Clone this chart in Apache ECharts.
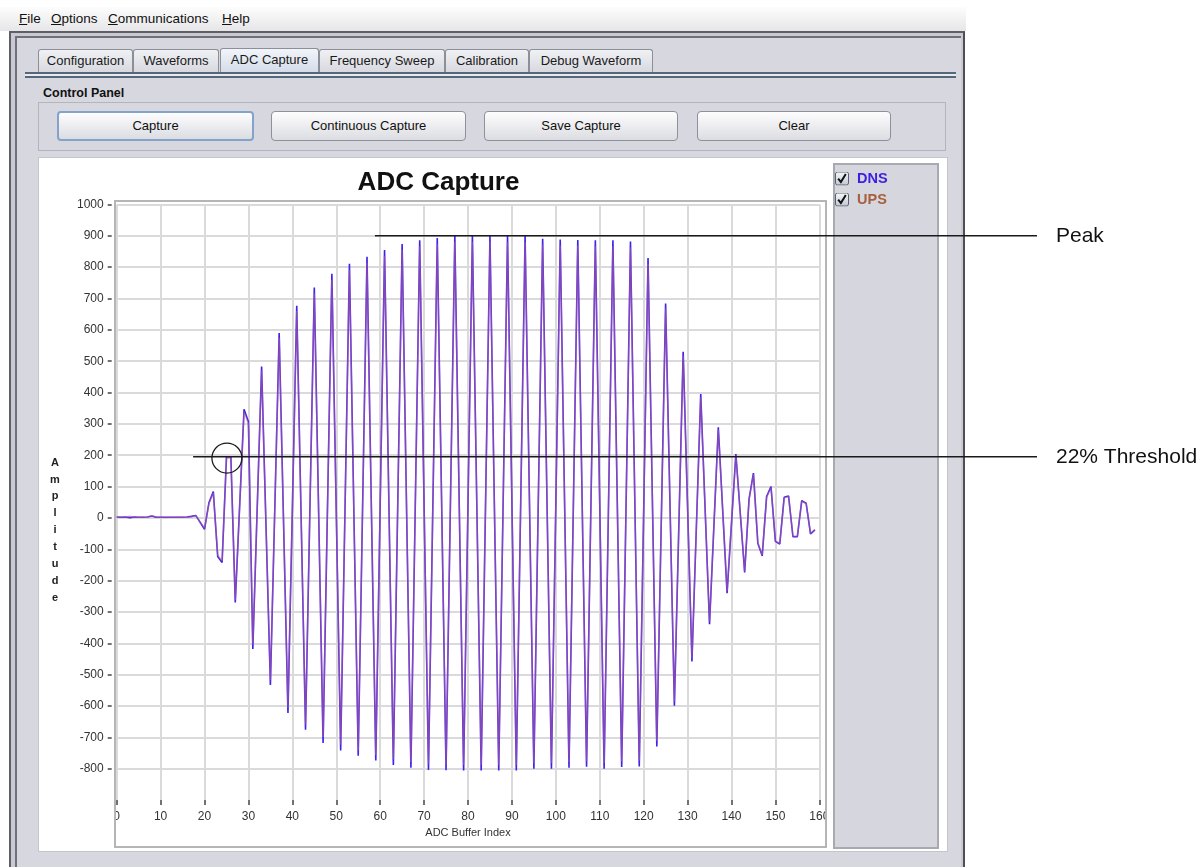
<!DOCTYPE html>
<html>
<head>
<meta charset="utf-8">
<script src="https://cdn.jsdelivr.net/npm/echarts@6/dist/echarts.min.js"></script>
<style>
html,body{margin:0;padding:0;width:1202px;height:867px;overflow:hidden;background:#fff;font-family:"Liberation Sans",Arial,sans-serif;color:#111;}
.abs{position:absolute;box-sizing:border-box;}
#menubar{left:0;top:7px;width:966px;height:24px;background:linear-gradient(#fdfdfd,#e6e6e8);font-size:13.5px;}
#menubar span{position:absolute;top:4px;}
.tab{top:49px;height:24px;border:1px solid #8d8f97;border-bottom:none;border-radius:3px 3px 0 0;background:linear-gradient(#f0f1f4,#d6d8df);font-size:13px;text-align:center;line-height:22px;color:#1a1a1a;}
.tab.sel{background:linear-gradient(#f1f5fa,#d3dbe8);}
.btn{top:111px;height:30px;border:1px solid #8e9199;border-radius:4px;background:linear-gradient(#fdfdfe,#dcdde2);font-size:13px;text-align:center;line-height:28px;color:#111;}
.btn.focus{border:2px solid #84a3cb;line-height:26px;}
#chart{left:0;top:0;width:1202px;height:867px;}
</style>
</head>
<body>
<div id="menubar" class="abs">
  <span style="left:19px"><u>F</u>ile</span>
  <span style="left:51px"><u>O</u>ptions</span>
  <span style="left:108px"><u>C</u>ommunications</span>
  <span style="left:222px"><u>H</u>elp</span>
</div>
<div class="abs" style="left:9px;top:31px;width:956px;height:840px;background:#c9cad1;border-top:2px solid #5e5e64;border-left:2px solid #5e5e64;border-right:2px solid #4e4e53;"></div>
<div class="abs" style="left:15px;top:36px;width:946px;height:835px;background:#d7d8df;border-top:2px solid #707077;border-left:2px solid #707077;"></div>
<div class="abs tab" style="left:38px;width:95px;">Configuration</div>
<div class="abs tab" style="left:133px;width:86px;">Waveforms</div>
<div class="abs tab sel" style="left:220px;width:99px;top:48px;height:25px;">ADC Capture</div>
<div class="abs tab" style="left:319px;width:126px;">Frequency Sweep</div>
<div class="abs tab" style="left:445px;width:84px;">Calibration</div>
<div class="abs tab" style="left:529px;width:124px;">Debug Waveform</div>
<div class="abs" style="left:25px;top:72px;width:931px;height:6px;border-top:2px solid #56677a;border-bottom:2px solid #56677a;background:#e9eaef;"></div>
<div class="abs" style="left:43px;top:86px;font-size:12.5px;font-weight:bold;">Control Panel</div>
<div class="abs" style="left:38px;top:102px;width:908px;height:49px;border:1px solid #b3b5bd;"></div>
<div class="abs btn focus" style="left:57px;width:197px;">Capture</div>
<div class="abs btn" style="left:271px;width:195px;">Continuous Capture</div>
<div class="abs btn" style="left:484px;width:194px;">Save Capture</div>
<div class="abs btn" style="left:697px;width:194px;">Clear</div>
<div class="abs" style="left:38px;top:157px;width:910px;height:695px;background:#fff;border:1px solid #c4c5cb;"></div>
<div class="abs" style="left:833px;top:163px;width:106px;height:686px;background:#d5d6de;border:2px solid #a8aab2;"></div>
<div id="chart" class="abs"></div>
<script>
// ---- data ----
const sampleIndex = [0,1,2,3,4,5,6,7,8,9,10,11,12,13,14,15,16,17,18,20,21,22,23,24,25,26,27,29,30,31,33,35,37,39,41,43,45,47,49,51,53,55,57,59,61,63,65,67,69,71,73,75,77,79,81,83,85,87,89,91,93,95,97,99,101,103,105,107,109,111,113,115,117,119,121,123,125,127,129,131,133,135,137,139,141,143,144,145,146,147,148,149,150,151,152,153,154,155,156,157,158,159];
const dnsValues = [3,2,3,1,3,2,2,3,6,2,2,2,2,2,2,2,3,5,8,-36,48,84,-123,-142,195,195,-270,347,307,-418,483,-533,590,-622,677,-676,735,-718,779,-742,811,-759,833,-774,855,-788,874,-797,886,-804,893,-805,900,-806,900,-806,900,-806,900,-806,900,-800,891,-800,888,-797,887,-794,886,-800,886,-795,882,-793,829,-729,684,-599,530,-458,395,-339,289,-240,204,-174,60,143,-81,-121,68,100,-75,-83,66,70,-60,-60,55,47,-51,-38];
const upsValues = [4,3,2,5,2,2,3,2,7,3,2,1,2,2,3,2,2,4,7,-33,45,80,-118,-137,190,190,-262,338,300,-405,470,-518,574,-606,660,-660,716,-700,760,-724,792,-742,814,-756,836,-770,855,-779,866,-786,873,-787,880,-788,880,-788,881,-788,880,-788,880,-782,872,-782,869,-779,868,-776,867,-782,867,-777,863,-775,811,-712,668,-585,517,-447,385,-331,282,-234,199,-170,58,140,-79,-118,66,97,-73,-81,64,68,-58,-58,53,46,-49,-37];
const xTicks = {min: 0, max: 160, step: 10};
const yTicks = {min: -900, max: 1000, step: 100};
const peakLevel = 900, peakStartIndex = 58.8;
const thresholdLevel = 195, thresholdStartIndex = 17.4;
const crossing = [25.1, 191];

const dnsData = sampleIndex.map((x, i) => [x, dnsValues[i]]);
const upsData = sampleIndex.map((x, i) => [x, upsValues[i]]);

const fontFam = '"Liberation Sans", Arial, sans-serif';
const checkSvg = "<svg xmlns='http://www.w3.org/2000/svg' width='14' height='14' viewBox='0 0 14 14'><defs><linearGradient id='g' x1='0' y1='0' x2='0' y2='1'><stop offset='0' stop-color='#f6f8fb'/><stop offset='1' stop-color='#c2c7d2'/></linearGradient></defs><rect x='0.5' y='0.5' width='13' height='13' rx='2' fill='url(#g)' stroke='#5b6170'/><path d='M3.2 7.2 L5.9 10.6 L10.8 2.6' fill='none' stroke='#111' stroke-width='2'/></svg>";
const checkIcon = 'image://data:image/svg+xml;charset=utf-8,' + encodeURIComponent(checkSvg);

const nY = Math.round((yTicks.max - yTicks.min) / yTicks.step) + 1;
const yGridColors = [];
for (let i = 0; i < nY; i++) yGridColors.push(i === 0 ? 'rgba(0,0,0,0)' : '#dadada');

const chart = echarts.init(document.getElementById('chart'), null, {renderer: 'canvas', width: 1202, height: 867});
chart.setOption({
  animation: false,
  backgroundColor: 'transparent',
  textStyle: {fontFamily: fontFam},
  title: {
    text: 'ADC Capture', left: 438.5, top: 170, textAlign: 'center', padding: 0,
    textStyle: {fontSize: 26, fontWeight: 'bold', color: '#111', fontFamily: fontFam}
  },
  legend: {
    orient: 'vertical', left: 835, top: 171, itemWidth: 14, itemHeight: 14, itemGap: 6, padding: 0,
    selectedMode: false,
    data: [
      {name: 'DNS', icon: checkIcon, textStyle: {color: '#3b1fe2'}},
      {name: 'UPS', icon: checkIcon, textStyle: {color: '#a65f3c'}}
    ],
    textStyle: {fontSize: 14.5, fontWeight: 'bold', fontFamily: fontFam, padding: [0, 0, 0, 3]}
  },
  grid: {left: 116.7, top: 204.5, width: 702.6, height: 595.5, containLabel: false, outerBoundsMode: 'none'},
  xAxis: {
    type: 'value', min: xTicks.min, max: xTicks.max, interval: xTicks.step,
    name: 'ADC Buffer Index', nameLocation: 'middle', nameGap: 27, nameMoveOverlap: false,
    nameTextStyle: {fontSize: 11, color: '#333', fontFamily: fontFam},
    axisLine: {show: false, onZero: false},
    axisTick: {show: true, length: 5, lineStyle: {color: '#444', width: 1.5}},
    axisLabel: {fontSize: 12, color: '#333', margin: 11, fontFamily: fontFam, formatter: v => String(v)},
    splitLine: {show: true, lineStyle: {color: '#dadada', width: 2}}
  },
  yAxis: {
    type: 'value', min: yTicks.min, max: yTicks.max, interval: yTicks.step, offset: 5,
    name: '{sp|}\nA\nm\np\nl\ni\nt\nu\nd\ne', nameLocation: 'middle', nameRotate: 0, nameGap: 56.7, nameMoveOverlap: false,
    nameTextStyle: {fontSize: 11, fontWeight: 'bold', color: '#222', lineHeight: 16.9, align: 'center', verticalAlign: 'middle', fontFamily: fontFam,
      rich: {sp: {height: 56, lineHeight: 56}}},
    axisLine: {show: false, onZero: false},
    axisTick: {show: true, length: 4, lineStyle: {color: '#444', width: 1.5}},
    axisLabel: {fontSize: 12, color: '#333', margin: 8, showMinLabel: false, fontFamily: fontFam, formatter: v => String(v)},
    splitLine: {show: true, lineStyle: {color: yGridColors, width: 2}}
  },
  series: [
    {name: 'DNS', type: 'line', data: dnsData, symbol: 'none', showSymbol: false,
     lineStyle: {color: '#3d22f0', width: 1.6}, itemStyle: {color: '#3d22f0'}, z: 2},
    {name: 'UPS', type: 'line', data: upsData, symbol: 'none', showSymbol: false,
     lineStyle: {color: '#c46a8a', width: 1.5, opacity: 0.5}, itemStyle: {color: '#a65f3c'}, z: 3}
  ]
});

const pPeak = chart.convertToPixel({gridIndex: 0}, [peakStartIndex, peakLevel]);
const pThr = chart.convertToPixel({gridIndex: 0}, [thresholdStartIndex, thresholdLevel]);
const pCirc = chart.convertToPixel({gridIndex: 0}, crossing);
const lineEndX = 1037, textX = 1056;

chart.setOption({
  graphic: [
    {type: 'rect', z: 50, silent: true, shape: {x: 100, y: 806, width: 15.5, height: 22}, style: {fill: '#fff'}},
    {type: 'rect', z: 50, silent: true, shape: {x: 826.5, y: 806, width: 6, height: 22}, style: {fill: '#fff'}},
    {type: 'rect', z: 60, silent: true, shape: {x: 115, y: 201, width: 711, height: 646}, style: {fill: null, stroke: '#b5b5b5', lineWidth: 2}},
    {type: 'line', z: 100, silent: true, shape: {x1: pPeak[0], y1: pPeak[1], x2: lineEndX, y2: pPeak[1]}, style: {stroke: '#1a1a1a', lineWidth: 1.5}},
    {type: 'line', z: 100, silent: true, shape: {x1: pThr[0], y1: pThr[1], x2: lineEndX, y2: pThr[1]}, style: {stroke: '#1a1a1a', lineWidth: 1.5}},
    {type: 'circle', z: 100, silent: true, shape: {cx: pCirc[0], cy: pCirc[1], r: 15}, style: {fill: null, stroke: '#1a1a1a', lineWidth: 1.3}},
    {type: 'text', z: 100, silent: true, x: textX, y: pPeak[1], style: {text: 'Peak', fontSize: 21, fontFamily: fontFam, fill: '#111', align: 'left', verticalAlign: 'middle', textAlign: 'left', textVerticalAlign: 'middle'}},
    {type: 'text', z: 100, silent: true, x: textX, y: pThr[1], style: {text: '22% Threshold', fontSize: 21, fontFamily: fontFam, fill: '#111', align: 'left', verticalAlign: 'middle', textAlign: 'left', textVerticalAlign: 'middle'}}
  ]
});
</script>
</body>
</html>
